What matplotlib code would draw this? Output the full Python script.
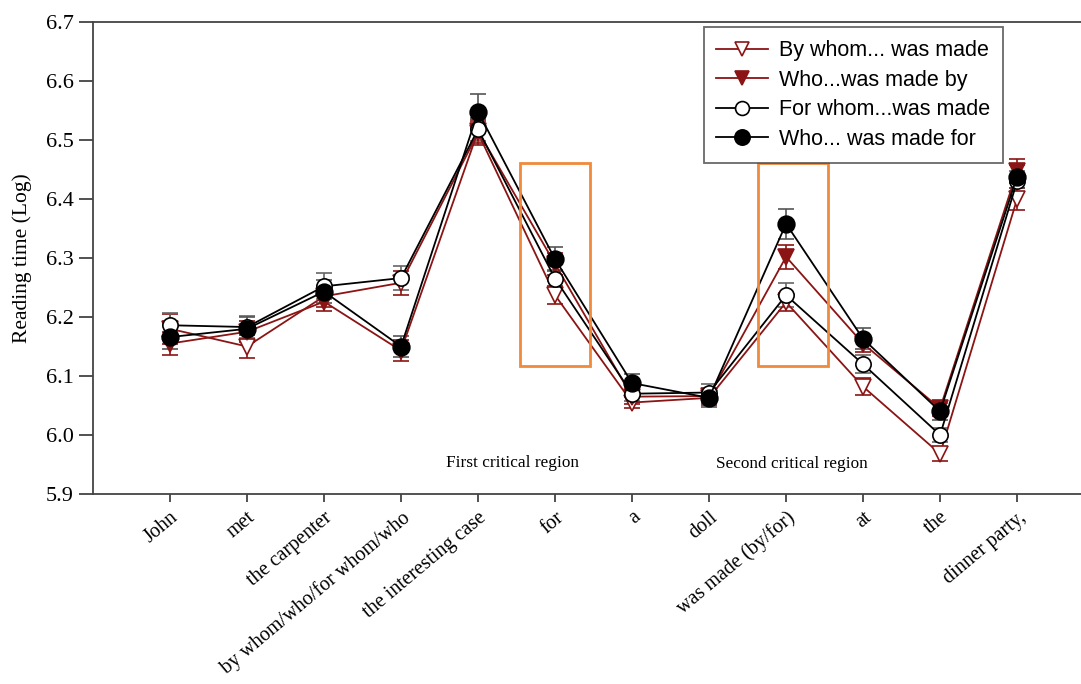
import numpy as np
import matplotlib.pyplot as plt
from matplotlib.lines import Line2D

# regions of the sentence
words = ['John', 'met', 'the carpenter', 'by whom/who/for whom/who',
         'the interesting case', 'for', 'a', 'doll', 'was made (by/for)',
         'at', 'the', 'dinner party,']

# reading times (log)
by_whom_made = [6.180, 6.150, 6.235, 6.258, 6.512, 6.237, 6.055, 6.063, 6.225, 6.082, 5.968, 6.400]
who_made_by = [6.155, 6.175, 6.226, 6.143, 6.515, 6.290, 6.065, 6.066, 6.302, 6.155, 6.045, 6.447]
for_whom_made = [6.186, 6.183, 6.252, 6.266, 6.518, 6.265, 6.070, 6.072, 6.237, 6.120, 6.000, 6.430]
who_made_for = [6.166, 6.180, 6.243, 6.150, 6.548, 6.298, 6.088, 6.063, 6.358, 6.163, 6.040, 6.438]

err_by_whom_made = [0.025, 0.020, 0.018, 0.020, 0.020, 0.015, 0.010, 0.012, 0.015, 0.015, 0.012, 0.018]
err_who_made_by = [0.020, 0.018, 0.015, 0.018, 0.020, 0.018, 0.012, 0.012, 0.020, 0.015, 0.012, 0.020]
err_for_whom_made = [0.020, 0.018, 0.022, 0.020, 0.020, 0.015, 0.012, 0.015, 0.020, 0.015, 0.012, 0.018]
err_who_made_for = [0.020, 0.020, 0.020, 0.018, 0.030, 0.020, 0.015, 0.015, 0.025, 0.018, 0.015, 0.020]

labels = ['By whom... was made', 'Who...was made by', 'For whom...was made', 'Who... was made for']

red = '#8b1414'
x = np.arange(len(words))

fig = plt.figure(figsize=(10.81, 6.84), dpi=100)
ax = fig.add_axes([93/1081, 190/684, 988/1081, 472/684])

styles = [
    (by_whom_made, err_by_whom_made, red, red, 'v', 'white', 11),
    (who_made_by, err_who_made_by, red, red, 'v', red, 11),
    (for_whom_made, err_for_whom_made, 'black', '#666666', 'o', 'white', 11),
    (who_made_for, err_who_made_for, 'black', '#555555', 'o', 'black', 12),
]
handles = []
for (vals, err, c, ec, m, fc, ms), lab in zip(styles, labels):
    ax.errorbar(x, vals, yerr=err, color=c, ecolor=ec, lw=1.3, marker=m, ms=ms,
                mfc=fc, mec=c, mew=1.2, capsize=6, elinewidth=1.2, capthick=1.2)
    handles.append(Line2D([], [], color=c, lw=1.3, marker=m, ms=ms - 1, mfc=fc,
                          mec=c, mew=1.2, label=lab))

# critical region boxes
for x0 in [4.545, 7.636]:
    ax.add_patch(plt.Rectangle((x0, 6.117), 0.91, 0.344, fill=False,
                               edgecolor='#f08a3c', lw=2, zorder=5))
ax.text(4.45, 5.953, 'First critical region', ha='center', va='center',
        family='Liberation Serif', fontsize=12.4)
ax.text(8.08, 5.951, 'Second critical region', ha='center', va='center',
        family='Liberation Serif', fontsize=12.4)

ax.set_xlim(-1, 11.83)
ax.set_ylim(5.9, 6.7)
ax.set_yticks(np.arange(5.9, 6.71, 0.1))
ax.set_yticklabels(['%.1f' % v for v in np.arange(5.9, 6.71, 0.1)],
                   family='Liberation Serif', fontsize=16)
ax.set_xticks(x)
ax.set_xticklabels(words, rotation=40, ha='right', rotation_mode='anchor',
                   family='Liberation Serif', fontsize=14.5)
ax.tick_params(axis='x', direction='out', length=6, width=1.2, color='#333333', pad=4)
ax.tick_params(axis='y', direction='out', length=10, width=1.2, color='#333333', pad=4)
ax.set_ylabel('Reading time (Log)', family='Liberation Serif', fontsize=15.5, labelpad=10)

ax.spines['right'].set_visible(False)
for s in ['left', 'bottom', 'top']:
    ax.spines[s].set_color('#444444')
    ax.spines[s].set_linewidth(1.3)

leg = ax.legend(handles=handles, loc='upper right', bbox_to_anchor=(0.921, 0.989), frameon=True,
                fancybox=False, edgecolor='#444444', prop={'family': 'Liberation Sans', 'size': 15.5},
                handlelength=2.4, borderpad=0.6, labelspacing=0.4, handletextpad=0.5,
                borderaxespad=0)
leg.get_frame().set_linewidth(1.3)

fig.savefig('out.png', dpi=100)
